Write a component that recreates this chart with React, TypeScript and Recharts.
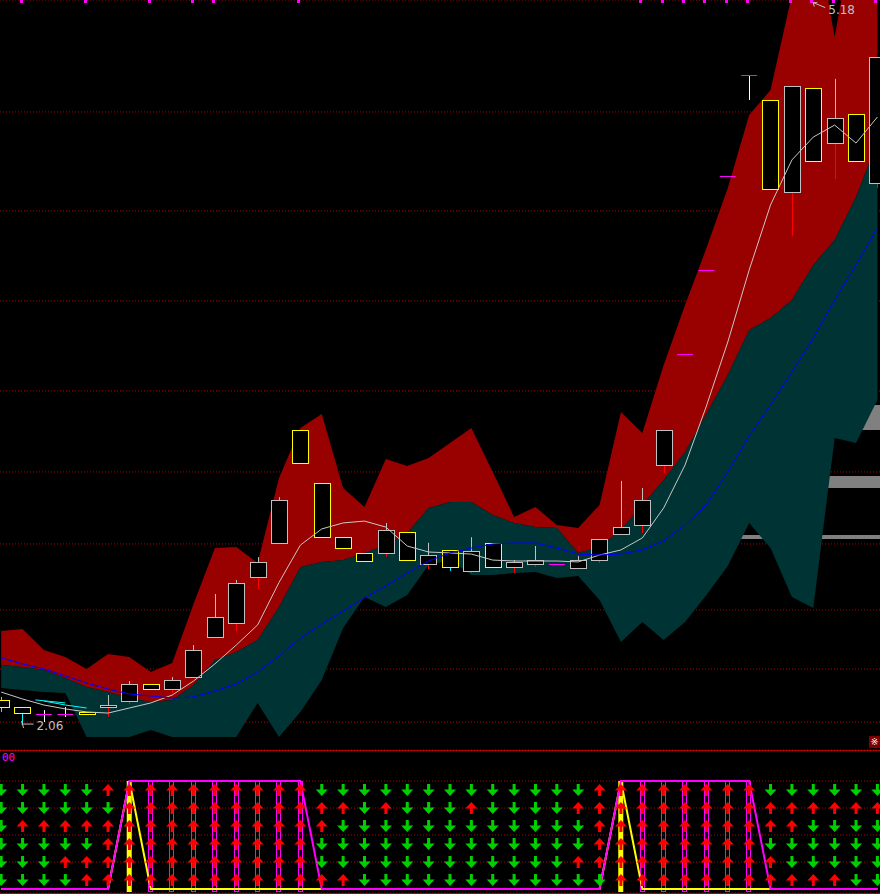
import React from 'react';
import {
  ComposedChart,
  Area,
  Bar,
  Line,
  Scatter,
  XAxis,
  YAxis,
  CartesianGrid,
  ReferenceDot,
} from 'recharts';

// ---- price panel data (42 daily bars) ----
const BAND_UP = [
  2.466, 2.474, 2.383, 2.353, 2.301, 2.366, 2.353, 2.288, 2.327, 2.583,
  2.825, 2.83, 2.76, 3.129, 3.345, 3.406, 3.085, 3.003, 3.211, 3.181,
  3.215, 3.28, 3.345, 3.155, 2.96, 3.003, 2.925, 2.912, 3.012, 3.415,
  3.324, 3.618, 3.878, 4.125, 4.385, 4.702, 4.81, 5.222, 5.555, 5.04,
  5.555, 5.555,
];
const BAND_MID = [
  2.318, 2.31, 2.297, 2.262, 2.223, 2.201, 2.175, 2.158, 2.167, 2.232,
  2.34, 2.375, 2.427, 2.57, 2.743, 2.765, 2.773, 2.804, 2.838, 2.89,
  2.999, 3.025, 3.025, 2.968, 2.934, 2.916, 2.912, 2.804, 2.83, 2.903,
  3.012, 3.12, 3.241, 3.406, 3.575, 3.77, 3.822, 3.9, 4.052, 4.16,
  4.346, 4.585,
];
const BAND_LOW = [
  2.219, 2.21, 2.201, 2.197, 2.006, 2.006, 2.006, 2.037, 2.006, 2.006,
  2.006, 2.006, 2.154, 2.006, 2.115, 2.253, 2.479, 2.613, 2.57, 2.622,
  2.752, 2.773, 2.708, 2.708, 2.717, 2.721, 2.695, 2.704, 2.6, 2.418,
  2.505, 2.427, 2.505, 2.622, 2.747, 2.934, 2.825, 2.613, 2.565, 3.302,
  3.28, 3.467,
];
const WHITE_LINE = [
  2.201, 2.171, 2.145, 2.128, 2.115, 2.11, 2.132, 2.154, 2.188, 2.249,
  2.323, 2.405, 2.492, 2.676, 2.838, 2.908, 2.934, 2.942, 2.916, 2.834,
  2.808, 2.804, 2.799, 2.773, 2.769, 2.769, 2.769, 2.765, 2.795, 2.817,
  2.869, 2.999, 3.185, 3.441, 3.718, 4.03, 4.312, 4.507, 4.606, 4.658,
  4.58, 4.693,
];
const BLUE_LINE = [
  2.349, 2.323, 2.301, 2.271, 2.24, 2.214, 2.193, 2.184, 2.175, 2.18,
  2.206, 2.236, 2.288, 2.357, 2.435, 2.496, 2.552, 2.609, 2.661, 2.717,
  2.769, 2.804, 2.825, 2.843, 2.847, 2.847, 2.825, 2.799, 2.795, 2.799,
  2.817, 2.856, 2.925, 3.012, 3.155, 3.311, 3.445, 3.588, 3.735, 3.9,
  4.052, 4.212,
];
const CYAN_POINTS: [number, number][] = [[2, 2.162], [3, 2.145], [4, 2.132]];
const CYAN_POINTS_2: [number, number][] = [[1.6, 2.167], [3, 2.154]];

const BODY_HIGH = [
  2.167, 2.136, 2.106, 2.106, 2.116, 2.145, 2.236, 2.236, 2.253, 2.383,
  2.526, 2.674, 2.765, 3.033, 3.337, 3.107, 2.873, 2.804, 2.903, 2.895,
  2.795, 2.817, 2.812, 2.847, 2.765, 2.773, 2.756, 2.773, 2.864, 2.916,
  3.033, 3.337, 3.666, 4.03, 4.437, 4.875, 4.767, 4.827, 4.819, 4.689,
  4.706, 4.953,
];
const BODY_LOW = [
  2.136, 2.112, 2.106, 2.106, 2.105, 2.136, 2.162, 2.214, 2.214, 2.266,
  2.44, 2.5, 2.7, 2.847, 3.194, 2.873, 2.825, 2.769, 2.804, 2.773,
  2.756, 2.743, 2.726, 2.743, 2.743, 2.756, 2.756, 2.739, 2.773, 2.886,
  2.925, 3.185, 3.666, 4.03, 4.437, 4.875, 4.381, 4.368, 4.502, 4.58,
  4.502, 4.407,
];
const HIGH = [
  2.18, 2.136, 2.123, 2.136, 2.116, 2.188, 2.249, 2.236, 2.266, 2.405,
  2.626, 2.687, 2.786, 3.046, 3.337, 3.107, 2.873, 2.804, 2.934, 2.895,
  2.848, 2.817, 2.872, 2.847, 2.773, 2.834, 2.756, 2.791, 2.864, 3.116,
  3.085, 3.337, 3.666, 4.03, 4.437, 4.875, 4.767, 4.827, 4.819, 4.858,
  4.706, 4.953,
];
const LOW = [
  2.115, 2.058, 2.071, 2.093, 2.105, 2.094, 2.149, 2.214, 2.197, 2.266,
  2.44, 2.466, 2.648, 2.847, 3.194, 2.873, 2.825, 2.769, 2.788, 2.773,
  2.734, 2.726, 2.717, 2.743, 2.717, 2.744, 2.756, 2.739, 2.76, 2.886,
  2.89, 3.15, 3.666, 4.03, 4.437, 4.767, 4.381, 4.177, 4.502, 4.424,
  4.502, 4.385,
];
// g = grey frame, y = yellow frame, d = flat (magenta) bar
const KIND = [
  'y', 'y', 'd', 'd', 'y', 'g', 'g', 'y', 'g', 'g',
  'g', 'g', 'g', 'g', 'y', 'y', 'y', 'y', 'g', 'y',
  'g', 'y', 'g', 'y', 'g', 'g', 'd', 'g', 'g', 'g',
  'g', 'g', 'd', 'd', 'd', 'd', 'y', 'g', 'y', 'g',
  'y', 'g',
];
const SIGNAL_COLS = [1, 4, 7, 9, 10, 14, 30, 31, 32, 33, 34, 35, 37, 38, 39, 41];
const GRID_LEVELS = [5.183, 4.715, 4.286, 3.896, 3.506, 3.155, 2.843, 2.557, 2.301, 2.071];
// horizontal gray bars from the right edge (start column, price range)
const GRAY_BARS = [
  { from: 37, lo: 3.337, hi: 3.445 },
  { from: 35.5, lo: 3.085, hi: 3.137 },
  { from: 34, lo: 2.864, hi: 2.882 },
];
const HIGH_MARK = { col: 38, price: 5.18, text: '5.18' };
const LOW_MARK = { col: 1, price: 2.058, text: '2.06' };

// ---- signal panel data ----
const SIG_LINE = [
  0, 0, 0, 0, 0, 0, 1, 1, 1, 1, 1, 1, 1, 1, 1, 0, 0, 0, 0, 0, 0,
  0, 0, 0, 0, 0, 0, 0, 0, 1, 1, 1, 1, 1, 1, 1, 0, 0, 0, 0, 0, 0,
];
const TRIGGER = [
  0, 0, 0, 0, 0, 0, 1, 0, 0, 0, 0, 0, 0, 0, 0, 0, 0, 0, 0, 0, 0,
  0, 0, 0, 0, 0, 0, 0, 0, 1, 0, 0, 0, 0, 0, 0, 0, 0, 0, 0, 0, 0,
];
const HOLD_COLS = [7, 8, 9, 10, 11, 12, 13, 14, 30, 31, 32, 33, 34, 35];
const TRIGGER_COLS = [6, 29];
const ARROW_ROWS = [
  'DDDDD' + 'UUUUUUUUUU' + 'DDDDDDDDDDDDD' + 'UUUUUUUU' + 'DDDDDD',
  'DDDDDD' + 'UUUUUUUUUUU' + 'DU' + 'DDD' + 'U' + 'DDDD' + 'U' + 'UUUUUUUUUUUUUU',
  'D' + 'UUUUUUUUUUUUUUU' + 'DDDDDDDDDDDD' + 'UUUUUUUUUU' + 'DDDD',
  'DDDDD' + 'UUUUUUUUUU' + 'DDDDDDDDDDDDD' + 'UUUUUUUU' + 'DDDDDD',
  'DDD' + 'UUUUUUUUUUUU' + 'DDDDDDDDDDDD' + 'UUUUUUUUUU' + 'DDDDD',
  'DDDD' + 'UUUUUUUUUUUUU' + 'DDDDDDDDDDDD' + 'UUUUUUUUUUU' + 'DD',
];
const ROW_LEVELS = [0.917, 0.75, 0.583, 0.417, 0.25, 0.083];

const X_DOMAIN: [number, number] = [-0.056, 41.122];
const GRID_RED = '#b00000';

const cyanMap = new Map(CYAN_POINTS);
const mainData = BAND_UP.map((up, i) => ({
  i,
  up,
  mid: BAND_MID[i],
  low: BAND_LOW[i],
  white: WHITE_LINE[i],
  blue: BLUE_LINE[i],
  cyan: cyanMap.has(i) ? cyanMap.get(i) : null,
  hi: HIGH[i],
  lo: LOW[i],
  bh: BODY_HIGH[i],
  bl: BODY_LOW[i],
  kind: KIND[i],
}));
const cyan2Data = CYAN_POINTS_2.map(([i, v]) => ({ i, c2: v }));
const flatData = mainData.filter((d) => d.kind === 'd').map((d) => ({ i: d.i, v: d.bh }));
const signalData = SIGNAL_COLS.map((i) => ({ i, v: 5.2 }));
const grayData = GRAY_BARS.map((b) => [
  { i: b.from, g: [b.lo, b.hi] },
  { i: X_DOMAIN[1], g: [b.lo, b.hi] },
]);

const panelData = SIG_LINE.map((s, i) => ({
  i,
  sig: s,
  trig: TRIGGER[i],
  hold: HOLD_COLS.includes(i) || TRIGGER_COLS.includes(i) ? 1 : null,
  holdKind: TRIGGER_COLS.includes(i) ? 'y' : 'm',
}));
const arrowData = ARROW_ROWS.flatMap((row, r) =>
  row.split('').map((c, i) => ({ i, v: ROW_LEVELS[r], up: c === 'U' }))
);

const CandleShape = (props: any) => {
  const { x, y, width, height, payload } = props;
  if (x == null || y == null || !payload) return null;
  const top = Math.min(y, y + height);
  const h = Math.abs(height);
  const span = payload.hi - payload.lo;
  const k = span > 0 ? h / span : 0;
  const cx = Math.round(x + width / 2) + 0.5;
  const bodyTop = top + (payload.hi - payload.bh) * k;
  const bodyBot = top + (payload.hi - payload.bl) * k;
  const kind = payload.kind;
  const upper = kind === 'g' ? '#c0c0c0' : kind === 'y' ? '#00ffff' : '#ffffff';
  const lower = kind === 'g' ? '#ff0000' : kind === 'y' ? '#00ffff' : '#ffffff';
  const bt = Math.round(bodyTop) + 0.5;
  const bb = Math.round(bodyBot) + 0.5;
  return (
    <g>
      {bodyTop - top > 0.5 && (
        <line x1={cx} x2={cx} y1={top} y2={bodyTop} stroke={upper} strokeWidth={1} />
      )}
      {top + h - bodyBot > 0.5 && (
        <line x1={cx} x2={cx} y1={bodyBot} y2={top + h} stroke={lower} strokeWidth={1} />
      )}
      {kind !== 'd' && (
        <rect
          x={cx - 8}
          y={bt}
          width={16}
          height={Math.max(1, bb - bt)}
          fill="#000"
          stroke={kind === 'y' ? '#ffff00' : '#c0c0c0'}
          strokeWidth={1}
        />
      )}
    </g>
  );
};

const FlatShape = (props: any) => {
  const { cx, cy } = props;
  if (cx == null) return null;
  const yy = Math.round(cy) + 0.5;
  return <line x1={cx - 8} x2={cx + 8} y1={yy} y2={yy} stroke="#ff00ff" strokeWidth={1} />;
};

const SignalDot = (props: any) => {
  const { cx, cy } = props;
  if (cx == null) return null;
  return <rect x={Math.round(cx) - 3} y={cy} width={3} height={3} fill="#ff00ff" />;
};

const HighLabel = (props: any) => {
  const { cx, cy } = props;
  return (
    <g>
      <line x1={cx} y1={cy - 2} x2={cx + 12} y2={cy + 3} stroke="#c0c0c0" />
      <line x1={cx} y1={cy - 2} x2={cx + 4} y2={cy - 2} stroke="#c0c0c0" />
      <line x1={cx} y1={cy - 2} x2={cx + 1} y2={cy + 2} stroke="#c0c0c0" />
      <text x={cx + 15} y={cy + 9} fill="#c0c0c0" fontSize={12} fontFamily="DejaVu Sans">
        {HIGH_MARK.text}
      </text>
    </g>
  );
};

const LowLabel = (props: any) => {
  const { cx, cy } = props;
  return (
    <g>
      <line x1={cx - 1} y1={cy - 4} x2={cx + 1} y2={cy + 3} stroke="#c0c0c0" />
      <line x1={cx - 1} y1={cy - 1} x2={cx + 11} y2={cy - 1} stroke="#c0c0c0" />
      <text x={cx + 14} y={cy + 5} fill="#c0c0c0" fontSize={12} fontFamily="DejaVu Sans">
        {LOW_MARK.text}
      </text>
    </g>
  );
};

const HoldShape = (props: any) => {
  const { x, y, width, height, payload } = props;
  if (x == null || !payload) return null;
  const top = Math.min(y, y + height);
  const h = Math.abs(height);
  if (payload.holdKind === 'y') {
    return <rect x={x} y={top} width={width} height={h + 3} fill="#ffff00" />;
  }
  return (
    <rect
      x={Math.round(x) + 0.5}
      y={Math.round(top) + 0.5}
      width={width - 1}
      height={h + 2}
      fill="none"
      stroke="#ff00ff"
      strokeWidth={1}
    />
  );
};

const ArrowShape = (props: any) => {
  const { cx, cy, payload } = props;
  if (cx == null || !payload) return null;
  const s = payload.up ? 1 : -1;
  const pts = [
    [0, -6 * s],
    [6, 0.5 * s],
    [1.5, 0.5 * s],
    [1.5, 6 * s],
    [-1.5, 6 * s],
    [-1.5, 0.5 * s],
    [-6, 0.5 * s],
  ]
    .map(([dx, dy]) => `${cx + dx},${cy + dy}`)
    .join(' ');
  return <polygon points={pts} fill={payload.up ? '#ff0000' : '#00d000'} />;
};

const MainPanel = () => (
  <div style={{ position: 'absolute', left: 0, top: 0, width: 880, height: 750 }}>
    <ComposedChart
      width={880}
      height={750}
      data={mainData}
      margin={{ top: 0, right: 0, bottom: 0, left: 0 }}
    >
      <XAxis type="number" dataKey="i" domain={X_DOMAIN} allowDataOverflow hide />
      <YAxis type="number" domain={[1.95, 5.2]} ticks={GRID_LEVELS} allowDataOverflow hide />
      <CartesianGrid vertical={false} stroke={GRID_RED} strokeDasharray="1 2" />
      {grayData.map((d, k) => (
        <Area
          key={`gray-${k}`}
          data={d}
          type="linear"
          dataKey="g"
          fill="#808080"
          fillOpacity={1}
          stroke="none"
          isAnimationActive={false}
          dot={false}
          activeDot={false}
        />
      ))}
      <Area
        type="linear"
        dataKey={(d: any) => [d.mid, d.up]}
        fill="#990000"
        fillOpacity={1}
        stroke="none"
        isAnimationActive={false}
        dot={false}
        activeDot={false}
      />
      <Area
        type="linear"
        dataKey={(d: any) => [d.low, d.mid]}
        fill="#003333"
        fillOpacity={1}
        stroke="none"
        isAnimationActive={false}
        dot={false}
        activeDot={false}
      />
      <Bar
        dataKey={(d: any) => [d.lo, d.hi]}
        barSize={17}
        shape={CandleShape}
        isAnimationActive={false}
      />
      <Line
        type="linear"
        dataKey="white"
        stroke="#c8c8c8"
        strokeWidth={1}
        dot={false}
        activeDot={false}
        isAnimationActive={false}
      />
      <Line
        type="linear"
        dataKey="blue"
        stroke="#0000ff"
        strokeWidth={1}
        dot={false}
        activeDot={false}
        isAnimationActive={false}
      />
      <Line
        type="linear"
        dataKey="cyan"
        stroke="#00ffff"
        strokeWidth={1}
        dot={false}
        activeDot={false}
        isAnimationActive={false}
      />
      <Line
        data={cyan2Data}
        type="linear"
        dataKey="c2"
        stroke="#00ffff"
        strokeWidth={1}
        dot={false}
        activeDot={false}
        isAnimationActive={false}
      />
      <Scatter data={flatData} dataKey="v" shape={FlatShape} isAnimationActive={false} />
      <Scatter data={signalData} dataKey="v" shape={SignalDot} isAnimationActive={false} />
      <ReferenceDot x={HIGH_MARK.col} y={HIGH_MARK.price} r={0} shape={HighLabel} ifOverflow="visible" />
      <ReferenceDot x={LOW_MARK.col} y={LOW_MARK.price} r={0} shape={LowLabel} ifOverflow="visible" />
    </ComposedChart>
    <span
      style={{
        position: 'absolute',
        left: 869,
        top: 736,
        width: 11,
        height: 12,
        background: '#800000',
        color: '#ffffff',
        fontSize: 9,
        lineHeight: '12px',
        textAlign: 'center',
        fontFamily: 'DejaVu Sans',
      }}
    >
      ※
    </span>
  </div>
);

const SignalPanel = () => (
  <div
    style={{
      position: 'absolute',
      left: 0,
      top: 750,
      width: 880,
      height: 142,
      borderTop: `1px solid ${GRID_RED}`,
      borderBottom: `1px solid ${GRID_RED}`,
    }}
  >
    <ComposedChart
      width={880}
      height={142}
      data={panelData}
      margin={{ top: 0, right: 0, bottom: 0, left: 0 }}
    >
      <XAxis type="number" dataKey="i" domain={X_DOMAIN} allowDataOverflow hide />
      <YAxis type="number" domain={[-0.037, 1.2778]} ticks={[0.25, 0.5, 0.75, 1]} allowDataOverflow hide />
      <CartesianGrid vertical={false} stroke={GRID_RED} strokeDasharray="1 2" />
      <Bar dataKey="hold" barSize={5} shape={HoldShape} isAnimationActive={false} />
      <Line
        type="linear"
        dataKey="trig"
        stroke="#ffff00"
        strokeWidth={2}
        dot={false}
        activeDot={false}
        isAnimationActive={false}
      />
      <Line
        type="linear"
        dataKey="sig"
        stroke="#ff00ff"
        strokeWidth={2}
        dot={false}
        activeDot={false}
        isAnimationActive={false}
      />
      <Scatter data={arrowData} dataKey="v" shape={ArrowShape} isAnimationActive={false} />
    </ComposedChart>
    <span
      style={{
        position: 'absolute',
        left: 2,
        top: 1,
        color: '#ff00ff',
        fontSize: 11,
        lineHeight: '12px',
        fontFamily: 'DejaVu Sans Mono',
      }}
    >
      00
    </span>
  </div>
);

export default function App() {
  return (
    <div
      style={{
        position: 'fixed',
        left: 0,
        top: 0,
        width: 880,
        height: 894,
        background: '#000000',
        overflow: 'hidden',
      }}
    >
      <MainPanel />
      <SignalPanel />
    </div>
  );
}
